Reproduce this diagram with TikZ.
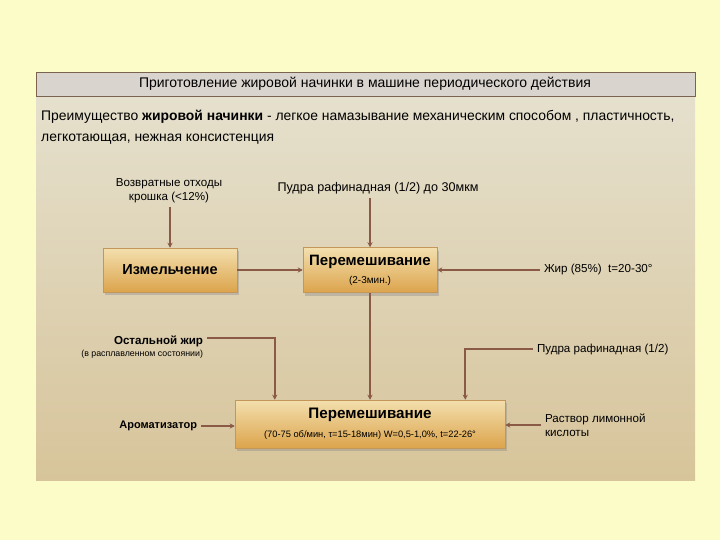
\documentclass[tikz,border=0pt]{standalone}
\usepackage{fontspec}
\setmainfont{Liberation Sans}
\usetikzlibrary{arrows.meta,shadows}
\definecolor{pagebg}{HTML}{FCFCC8}
\definecolor{paneltop}{HTML}{E5E0CD}
\definecolor{panelbot}{HTML}{D7C49A}
\definecolor{titlefill}{HTML}{DAD4CE}
\definecolor{titleline}{HTML}{7A6450}
\definecolor{boxtop}{HTML}{F3DFAE}
\definecolor{boxbot}{HTML}{DCA44C}
\definecolor{boxline}{HTML}{C3965A}
\definecolor{feedcol}{HTML}{8A5A46}
\tikzset{
    procbox/.style={draw=boxline,line width=0.5pt,top color=boxtop,bottom color=boxbot,
        drop shadow={shadow xshift=2pt,shadow yshift=-3pt,opacity=0.35},
        align=center,inner sep=2pt},
    feed/.style={draw=feedcol,line width=2pt,-{Stealth[length=5pt,width=5pt]}},
    feedlbl/.style={font=\fontsize{11.6}{14}\selectfont,inner sep=1pt,outer sep=3pt},
}

\begin{document}
\begin{tikzpicture}[x=1pt,y=-1pt]
    \useasboundingbox (0,0) rectangle (720,540);
    \fill[pagebg] (0,0) rectangle (720,540); % page
    \shade[top color=paneltop,bottom color=panelbot] (36,96) rectangle (695,480);
    \draw[titleline,fill=titlefill,line width=0.8pt] (36,72) rectangle (695,96);

    \node[font=\fontsize{14}{16}\selectfont] (title) at (365,84) {Приготовление жировой начинки в машине периодического действия};
    \node[anchor=north west,align=left,inner sep=0pt,font=\fontsize{13.9}{21}\selectfont] (intro) at (41,110)
        {Преимущество \textbf{жировой начинки} - легкое намазывание механическим способом , пластичность,\\
         легкотающая, нежная консистенция};

    % process boxes
    \node[procbox,minimum width=134pt,minimum height=44pt,font=\fontsize{14.5}{16}\selectfont\bfseries] (izm) at (170,270)
        {Измельчение};
    \node[procbox,minimum width=134pt,minimum height=45pt,font=\fontsize{15}{16}\selectfont\bfseries] (mixa) at (370,270)
        {Перемешивание\\[2pt]
         {\fontsize{10}{11}\selectfont\mdseries (2-3мин.)}};
    \node[procbox,minimum width=270pt,minimum height=48pt,font=\fontsize{15.2}{17}\selectfont\bfseries] (mixb) at (370,424)
        {Перемешивание\\[2pt]
         {\fontsize{9.3}{11}\selectfont\mdseries (70-75 об/мин, τ=15-18мин) W=0,5-1,0\%, t=22-26°}};

    % inputs
    \node[feedlbl,align=center] (vozv) at (169,191) {Возвратные отходы\\крошка (<12\%)};
    \node[feedlbl,font=\fontsize{12.6}{14}\selectfont] (pudra) at (378,188) {Пудра рафинадная (1/2) до 30мкм};
    \node[feedlbl,anchor=west] (zhir) at (540,270) {Жир (85\%)\ \ t=20-30°};
    \node[feedlbl,align=right,anchor=east] (ostzhir) at (207,347)
        {\textbf{Остальной жир}\\[-2pt]{\fontsize{8.8}{10}\selectfont (в расплавленном состоянии)}};
    \node[feedlbl,anchor=west] (pudrb) at (533,349) {Пудра рафинадная (1/2)};
    \node[feedlbl,anchor=east,font=\fontsize{11}{13}\selectfont\bfseries] (arom) at (201,426) {Ароматизатор};
    \node[feedlbl,anchor=west,align=left] (rastv) at (541,425) {Раствор лимонной\\кислоты};

    % connectors
    \draw[feed] (izm.north |- vozv.south) -- (izm.north);
    \draw[feed] (mixa.north |- pudra.south) -- (mixa.north);
    \draw[feed] (izm.east) -- (mixa.west);
    \draw[feed] (zhir.west) -- (mixa.east);
    \draw[feed] (mixa.south) -- (mixb.north);
    \draw[feed] ([yshift=-6pt]ostzhir.north east) -| ([xshift=40pt]mixb.north west);
    \draw[feed] (pudrb.west) -| ([xshift=-40pt]mixb.north east);
    \draw[feed] (arom.east) -- (arom.east -| mixb.west);
    \draw[feed] (rastv.west) -- (rastv.west -| mixb.east);
\end{tikzpicture}
\end{document}
